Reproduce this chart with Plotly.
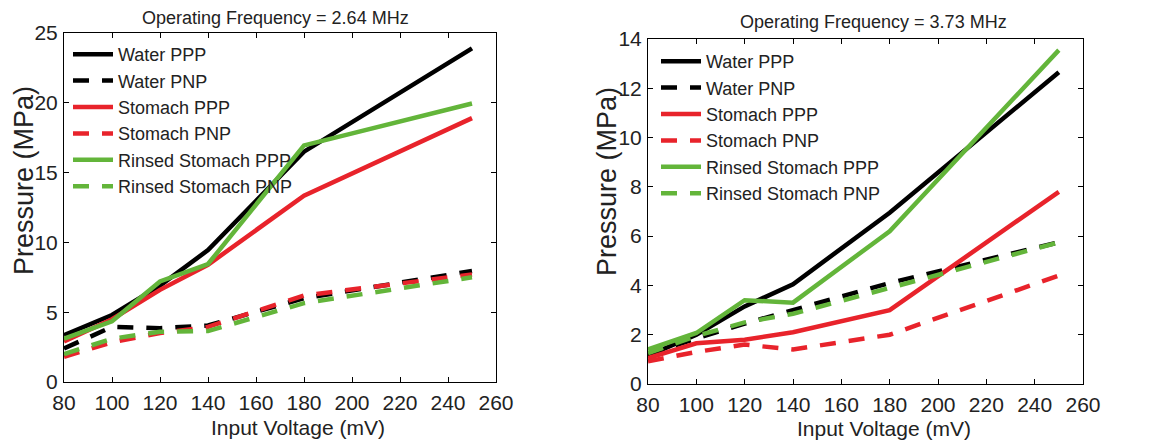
import plotly.graph_objects as go

# ---- data ----
voltage = [80, 100, 120, 140, 180, 250]

series_names = ["Water PPP", "Water PNP", "Stomach PPP", "Stomach PNP",
                "Rinsed Stomach PPP", "Rinsed Stomach PNP"]

# 2.64 MHz
water_ppp_264 = [3.35, 4.8, 6.9, 9.45, 16.5, 23.9]
water_pnp_264 = [2.4, 3.95, 3.85, 4.05, 6.0, 7.95]
stomach_ppp_264 = [2.9, 4.5, 6.6, 8.4, 13.35, 18.9]
stomach_pnp_264 = [1.8, 2.85, 3.5, 3.95, 6.2, 7.7]
rinsed_ppp_264 = [3.1, 4.35, 7.2, 8.45, 16.95, 19.95]
rinsed_pnp_264 = [2.0, 3.1, 3.6, 3.65, 5.65, 7.5]

# 3.73 MHz
water_ppp_373 = [1.15, 2.0, 3.15, 4.05, 6.95, 12.65]
water_pnp_373 = [1.2, 1.85, 2.45, 3.0, 4.1, 5.75]
stomach_ppp_373 = [1.05, 1.65, 1.8, 2.1, 3.0, 7.8]
stomach_pnp_373 = [0.92, 1.3, 1.6, 1.4, 2.0, 4.4]
rinsed_ppp_373 = [1.4, 2.07, 3.4, 3.3, 6.2, 13.55]
rinsed_pnp_373 = [1.25, 1.95, 2.5, 2.85, 3.9, 5.75]

titles = ["Operating Frequency = 2.64 MHz", "Operating Frequency = 3.73 MHz"]
x_label = "Input Voltage (mV)"
y_label = "Pressure (MPa)"
x_ticks = [80, 100, 120, 140, 160, 180, 200, 220, 240, 260]
y_ticks_264 = [0, 5, 10, 15, 20, 25]
y_ticks_373 = [0, 2, 4, 6, 8, 10, 12, 14]

# ---- styles ----
BLACK = "#000000"
RED = "#e8232b"
GREEN = "#63b53a"
colors = [BLACK, BLACK, RED, RED, GREEN, GREEN]
dashes = ["solid", "16px,13px", "solid", "16px,13px", "solid", "16px,13px"]
FONT = "Liberation Sans, Arial, sans-serif"
TXT = "#222"

W, H = 1148, 436  # page body has an 8px margin


def px(x):
    return (x - 8) / W


def py(y):
    return 1 - (y - 8) / H


fig = go.Figure()

panels = [
    ([water_ppp_264, water_pnp_264, stomach_ppp_264, stomach_pnp_264,
      rinsed_ppp_264, rinsed_pnp_264], "x", "y", "legend"),
    ([water_ppp_373, water_pnp_373, stomach_ppp_373, stomach_pnp_373,
      rinsed_ppp_373, rinsed_pnp_373], "x2", "y2", "legend2"),
]

for pi, (data, xa, ya, lg) in enumerate(panels):
    for i, (name, vals) in enumerate(zip(series_names, data)):
        fig.add_trace(go.Scatter(
            x=voltage, y=vals, name=name, mode="lines",
            line=dict(color=colors[i], width=4.5, dash=dashes[i]),
            xaxis=xa, yaxis=ya, legend=lg,
            legendgroup=f"p{pi}s{i}", showlegend=True,
        ))

axis_common = dict(
    showgrid=False, zeroline=False, showline=True, linecolor="#000",
    linewidth=1, mirror="ticks", ticks="inside", ticklen=5, tickcolor="#000",
    tickfont=dict(family=FONT, size=21, color=TXT), automargin=False,
)

leg_common = dict(
    bgcolor="rgba(0,0,0,0)", borderwidth=0,
    font=dict(family=FONT, size=18, color=TXT),
    xanchor="left", yanchor="top", tracegroupgap=0,
    itemwidth=40,
)


def ann(text, x, y, size, angle=0):
    return dict(text=text, x=px(x), y=py(y), xref="paper", yref="paper",
                showarrow=False, xanchor="center", yanchor="middle",
                textangle=angle, font=dict(family=FONT, size=size, color=TXT))


fig.update_layout(
    width=W, height=H,
    margin=dict(l=0, r=0, t=0, b=0, autoexpand=False),
    paper_bgcolor="white", plot_bgcolor="white",
    xaxis=dict(domain=[px(64), px(496)], range=[80, 260], tickvals=x_ticks,
               anchor="y", ticklabelstandoff=2, **axis_common),
    yaxis=dict(domain=[py(382), py(33)], range=[0, 25], tickvals=y_ticks_264,
               anchor="x", ticklabelstandoff=1, **axis_common),
    xaxis2=dict(domain=[px(648), px(1083)], range=[80, 260], tickvals=x_ticks,
                anchor="y2", ticklabelstandoff=2, **axis_common),
    yaxis2=dict(domain=[py(384), py(39)], range=[0, 14], tickvals=y_ticks_373,
                anchor="x2", ticklabelstandoff=1, **axis_common),
    legend=dict(x=px(68), y=py(36), **leg_common),
    legend2=dict(x=px(656), y=py(43), **leg_common),
    annotations=[
        ann(titles[0], 275, 18, 18),
        ann(titles[1], 873, 22, 18),
        ann(x_label, 298, 427, 21),
        ann(x_label, 884, 428, 21),
        ann(y_label, 24, 181, 27, -90),
        ann(y_label, 607, 182, 27, -90),
    ],
)

fig.write_html("out.html")
